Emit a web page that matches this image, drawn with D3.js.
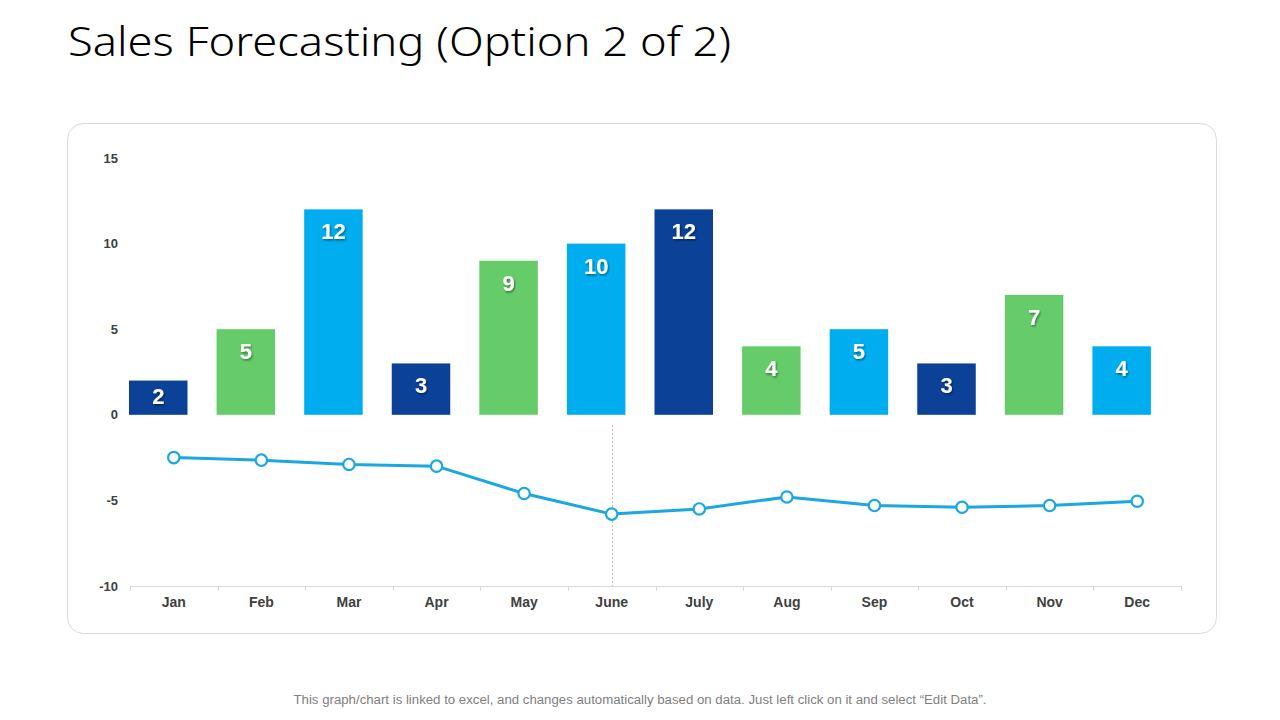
<!DOCTYPE html>
<html>
<head>
<meta charset="utf-8">
<script src="https://cdn.jsdelivr.net/npm/d3@7"></script>
<style>
	body { margin: 0; background: #fff; }
	svg { display: block; }
</style>
</head>
<body>
<svg id="chart" width="1280" height="720"></svg>
<script>
var windowW = 1280;
var windowH = 720;

var months = ["Jan", "Feb", "Mar", "Apr", "May", "June", "July", "Aug", "Sep", "Oct", "Nov", "Dec"];
var sales = [2, 5, 12, 3, 9, 10, 12, 4, 5, 3, 7, 4];
var trend = [-2.5, -2.65, -2.9, -3.0, -4.6, -5.8, -5.5, -4.8, -5.3, -5.4, -5.3, -5.05];
var yTicks = [-10, -5, 0, 5, 10, 15];

var barColors = ["#0B4297", "#66CC6A", "#00AEEF"];
var lineColor = "#1AA7E2";
var textColor = "#404040";

var svg = d3.select("#chart");

//////// Card + title

svg.append("rect")
	.attr("x", 67.5).attr("y", 123.5)
	.attr("width", 1149).attr("height", 510)
	.attr("rx", 16)
	.attr("fill", "#fff")
	.attr("stroke", "#d9d9d9");

svg.append("text")
	.attr("x", 68).attr("y", 56)
	.attr("font-family", "'Noto Sans', sans-serif")
	.attr("font-weight", 300)
	.attr("font-size", 40)
	.attr("textLength", 663)
	.attr("lengthAdjust", "spacingAndGlyphs")
	.attr("fill", "#000")
	.text("Sales Forecasting (Option 2 of 2)");

//////// Scales

// one band per month, no padding: bars sit in the left part of each band,
// the line points sit in the middle (like the excel chart)
var x = d3.scaleBand()
	.domain(months)
	.range([130, 1181]);

var barW = x.step() * 0.668;

var y = d3.scaleLinear()
	.domain([-10, 15])
	.range([586, 158]);

function midX(i) { return x(months[i]) + x.bandwidth() / 2; }

//////// Axes

var yAxis = svg.append("g")
	.attr("transform", "translate(118,0)")
	.call(d3.axisLeft(y).tickValues(yTicks).tickFormat(d => String(d)).tickSize(0).tickPadding(0));
yAxis.select(".domain").remove();
yAxis.selectAll("text")
	.attr("font-family", "'Liberation Sans', Arial, sans-serif")
	.attr("font-weight", "bold")
	.attr("font-size", 13)
	.attr("fill", textColor);

var xAxis = svg.append("g")
	.attr("transform", "translate(0," + y(-10) + ")")
	.call(d3.axisBottom(x).tickSize(0).tickPadding(11));
xAxis.select(".domain").attr("stroke", "#d9d9d9");
xAxis.selectAll("text")
	.attr("font-family", "'Liberation Sans', Arial, sans-serif")
	.attr("font-weight", "bold")
	.attr("font-size", 14)
	.attr("fill", textColor);

// tick marks between categories
var boundaries = months.map(m => x(m)).concat([x.range()[1]]);
svg.append("g").selectAll("line")
	.data(boundaries)
	.join("line")
	.attr("x1", d => Math.round(d) + 0.5).attr("x2", d => Math.round(d) + 0.5)
	.attr("y1", y(-10)).attr("y2", y(-10) + 5)
	.attr("stroke", "#d9d9d9");

//////// Bars

var bars = svg.append("g");

bars.selectAll("rect")
	.data(sales)
	.join("rect")
	.attr("x", (d, i) => x(months[i]) - 1)
	.attr("y", d => y(d))
	.attr("width", barW)
	.attr("height", d => y(0) - y(d))
	.attr("fill", (d, i) => barColors[i % 3]);

var defs = svg.append("defs");
var shadow = defs.append("filter").attr("id", "txtShadow");
shadow.append("feDropShadow")
	.attr("dx", 1).attr("dy", 1.5)
	.attr("stdDeviation", 0.8)
	.attr("flood-color", "#000")
	.attr("flood-opacity", 0.45);

// label near the top of the bar, pushed up when the bar is too short
bars.selectAll("text")
	.data(sales)
	.join("text")
	.attr("x", (d, i) => x(months[i]) - 1 + barW / 2)
	.attr("y", d => Math.min(y(d) + 22, y(0) - 19))
	.attr("dy", "0.36em")
	.attr("text-anchor", "middle")
	.attr("font-family", "'Liberation Sans', Arial, sans-serif")
	.attr("font-weight", "bold")
	.attr("font-size", 22)
	.attr("fill", "#fff")
	.attr("filter", "url(#txtShadow)")
	.text(d => d);

//////// Dotted marker at June

svg.append("line")
	.attr("x1", Math.round(midX(5)) + 0.5)
	.attr("x2", Math.round(midX(5)) + 0.5)
	.attr("y1", 425).attr("y2", y(-10))
	.attr("stroke", "#bfbfbf")
	.attr("stroke-width", 1)
	.attr("stroke-dasharray", "2,2");

//////// Line

var line = d3.line()
	.x((d, i) => midX(i))
	.y(d => y(d));

svg.append("path")
	.datum(trend)
	.attr("d", line)
	.attr("fill", "none")
	.attr("stroke", lineColor)
	.attr("stroke-width", 3);

svg.append("g").selectAll("circle")
	.data(trend)
	.join("circle")
	.attr("cx", (d, i) => midX(i))
	.attr("cy", d => y(d))
	.attr("r", 5.7)
	.attr("fill", "#fff")
	.attr("stroke", lineColor)
	.attr("stroke-width", 2.2);

//////// Footer

svg.append("text")
	.attr("x", 640).attr("y", 704)
	.attr("text-anchor", "middle")
	.attr("font-family", "'Liberation Sans', Arial, sans-serif")
	.attr("font-size", 12)
	.attr("textLength", 693)
	.attr("lengthAdjust", "spacingAndGlyphs")
	.attr("fill", "#808080")
	.text("This graph/chart is linked to excel, and changes automatically based on data. Just left click on it and select \u201cEdit Data\u201d.");
</script>
</body>
</html>
